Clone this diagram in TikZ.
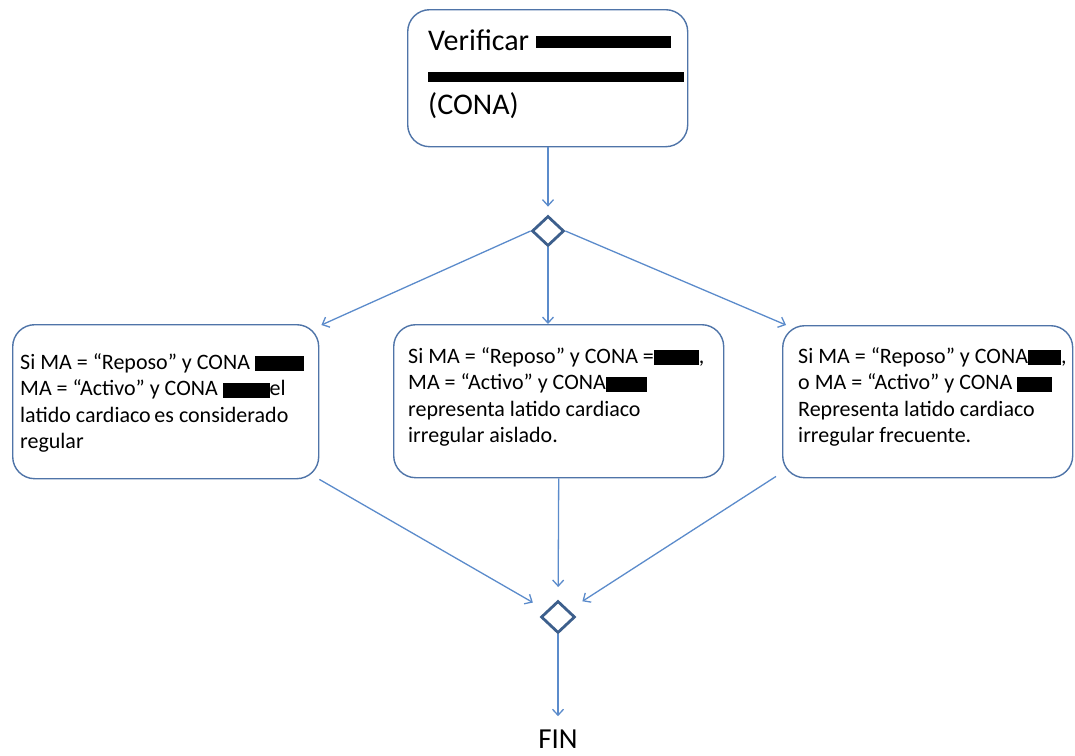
\documentclass[tikz,border=0pt]{standalone}
\usepackage{fontspec}
\setmainfont{Carlito}
\usetikzlibrary{arrows.meta,shapes.geometric}
\definecolor{boxline}{HTML}{4F74A8}
\definecolor{flow}{HTML}{5B8BCB}
\definecolor{gate}{HTML}{3D5F8C}
% black bar hiding part of a line of text
\newcommand{\redact}[1]{\textcolor{black}{\rule[-2pt]{#1}{15pt}}}
\begin{document}
\begin{tikzpicture}[x=1pt,y=-1pt,
  panel/.style={draw=boxline,line width=1.4pt,rounded corners=22pt,fill=white,
    anchor=north west,inner sep=0pt},
  boxtext/.style={anchor=north west,inner sep=0pt,align=left,
    font=\fontsize{22pt}{26.5pt}\selectfont},
  gatebox/.style={diamond,draw=gate,line width=2.8pt,inner sep=0pt,
    minimum width=32pt,minimum height=30pt},
  flowarrow/.style={draw=flow,line width=1.3pt,-{Straight Barb[length=6pt,width=11pt]}}]
\useasboundingbox (0,0) rectangle (1075,755);

% starting step
\node[panel,minimum width=280pt,minimum height=137pt] (verify) at (407,9) {};
\node[anchor=north west,inner sep=0pt,align=left,
  font=\fontsize{30pt}{32pt}\selectfont] (verifytxt) at (428,30)
  {\rule{0pt}{20pt}Verificar \textcolor{black}{\rule[3pt]{135pt}{12pt}}\\
   \textcolor{black}{\rule[1pt]{256pt}{10pt}}\\
   (CONA)};

% branch and merge gates
\node[gatebox] (split) at (548,231) {};
\node[gatebox,minimum width=34pt,minimum height=32pt] (merge) at (558,617) {};

% three outcome boxes
\node[panel,minimum width=306pt,minimum height=154pt] (regular) at (12,324) {};
\node[panel,minimum width=330pt,minimum height=153pt] (aislado) at (393,324) {};
\node[panel,minimum width=290pt,minimum height=152pt] (frecuente) at (782,325) {};

\node[boxtext] (regulartxt) at (20,353)
  {\rule{0pt}{15pt}Si MA = “Reposo” y CONA \redact{49pt}\\
   MA = “Activo” y CONA \redact{47pt}el\\
   latido cardiaco\,es considerado\\
   regular};
\node[boxtext] (aisladotxt) at (408,347)
  {\rule{0pt}{15pt}Si MA = “Reposo” y CONA =\redact{45pt},\\
   MA = “Activo” y CONA\redact{41pt}\\
   representa latido cardiaco\\
   irregular aislado.};
\node[boxtext] (frecuentetxt) at (798,347)
  {\rule{0pt}{15pt}Si MA = “Reposo” y CONA\redact{33pt},\\
   o MA = “Activo” y CONA \redact{35pt}\\
   Representa latido cardiaco\\
   irregular frecuente.};

% end label
\node[anchor=base,inner sep=0pt,font=\fontsize{29pt}{32pt}\selectfont] (fin) at (558,748) {FIN};

% connectors
\draw[flowarrow,shorten >=8pt] (verify.south -| split.north) -- (split.north);
\draw[flowarrow] (split.west) -- ([xshift=2pt,yshift=-1pt]regular.north east);
\draw[flowarrow] (split.south) -- (split.south |- aislado.north);
\draw[flowarrow] (split.east) -- ([xshift=4pt]frecuente.north west);
\draw[flowarrow,shorten >=29pt] (regular.south east) -- (merge.center);
\draw[flowarrow,shorten >=30pt] (aislado.south) -- (merge.center);
\draw[flowarrow,shorten >=29pt] ([xshift=-6pt,yshift=2pt]frecuente.south west) -- (merge.center);
\draw[flowarrow,shorten >=13pt] (merge.south) -- (fin.north);
\end{tikzpicture}
\end{document}
